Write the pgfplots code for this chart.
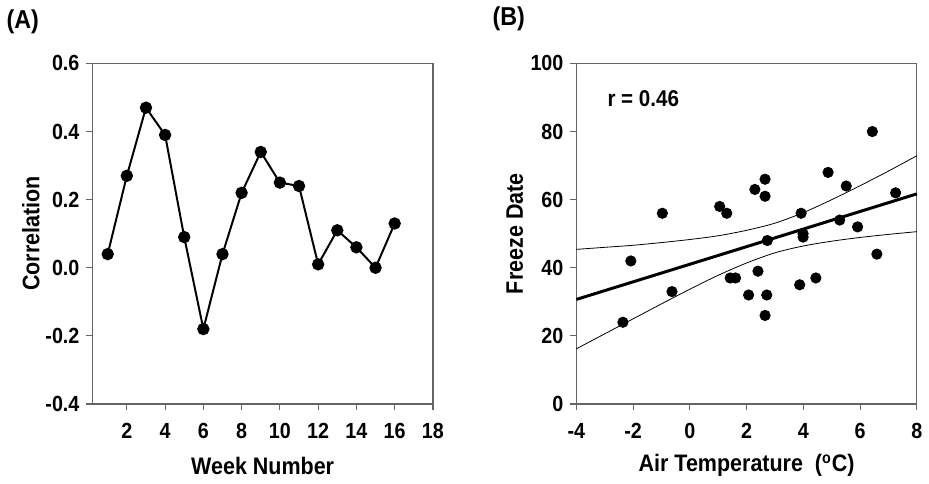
\documentclass[border=0pt]{standalone}
\usepackage{pgfplots}
\pgfplotsset{compat=1.18}
\usepackage{fontspec}
\setmainfont{Liberation Sans}[FakeStretch=0.9]

\pgfplotsset{
  panel/.style={
    scale only axis,
    width=171.2pt, height=171.2pt,
    axis line style={gray!80!black, line width=0.6pt},
    tick style={gray!80!black, line width=0.6pt},
    tick align=outside,
    major tick length=3pt,
    xtick pos=bottom, ytick pos=left,
    /pgf/number format/assume math mode=true,
    tick label style={font=\fontsize{11}{13}\selectfont\bfseries},
    xticklabel style={yshift=-3pt, text height=8pt, text depth=0pt},
    every axis x label/.style={at={(axis description cs:0.5,0)}, yshift=-31pt, anchor=center,
      font=\fontsize{12}{14}\selectfont\bfseries},
    every axis y label/.style={at={(axis description cs:0,0.5)}, xshift=-31pt, rotate=90, anchor=center,
      font=\fontsize{12}{14}\selectfont\bfseries},
    clip=false,
  },
}

\begin{document}
\begin{tikzpicture}
  % panel A
  \begin{axis}[
      panel,
      xmin=0.2, xmax=18,
      ymin=-0.4, ymax=0.6,
      xtick={2,4,...,18},
      ytick={-0.4,-0.2,0,0.2,0.4,0.6},
      yticklabel style={/pgf/number format/fixed, /pgf/number format/fixed zerofill, /pgf/number format/precision=1},
      xlabel={Week Number},
      ylabel={Correlation},
    ]
    \addplot[black, line width=1pt, mark=*, mark size=2.6pt]
    coordinates {
      (1,0.04) (2,0.27) (3,0.47) (4,0.39) (5,0.09) (6,-0.18) (7,0.04) (8,0.22)
      (9,0.34) (10,0.25) (11,0.24) (12,0.01) (13,0.11) (14,0.06) (15,0.00) (16,0.13)
    };
    \node[font=\fontsize{13}{15}\selectfont\bfseries] at (rel axis cs:0,1) [xshift=-35pt, yshift=21pt] {(A)};
  \end{axis}

  % panel B
  \begin{axis}[
      panel,
      at={(243.3pt,0pt)},
      xmin=-4, xmax=8,
      ymin=0, ymax=100,
      xtick={-4,-2,...,8},
      ytick={0,20,...,100},
      xlabel={Air Temperature\ \ (\textsuperscript{o}C)},
      ylabel={Freeze Date},
    ]
    % confidence band, upper
    \addplot[black, line width=0.4pt, smooth] coordinates {
      (-4,45.4) (-3,46.0) (-2,46.6) (-1,47.4) (0,48.3) (1,49.4) (2,51.0)
      (3,53.1) (4,56.2) (5,60.0) (6,64.1) (7,68.4) (8,72.9)
    };
    % confidence band, lower
    \addplot[black, line width=0.4pt, smooth] coordinates {
      (-4,16.2) (-3,20.6) (-2,25.0) (-1,29.4) (0,33.7) (1,37.8) (2,41.4)
      (3,44.4) (4,46.4) (5,47.8) (6,48.9) (7,49.8) (8,50.6)
    };
    % regression line
    \addplot[black, line width=1.5pt] coordinates {(-4,30.7) (8,61.7)};
    % observations
    \addplot[only marks, mark=*, mark size=2.6pt, black] coordinates {
      (-2.36,24) (-2.08,42) (-0.97,56) (-0.63,33) (1.05,58) (1.30,56) (1.42,37)
      (1.61,37) (2.07,32) (2.29,63) (2.40,39) (2.65,66) (2.65,61) (2.73,48)
      (2.71,32) (2.65,26) (3.87,35) (3.92,56) (3.99,50) (3.99,49) (4.44,37)
      (4.87,68) (5.28,54) (5.51,64) (5.91,52) (6.43,80) (6.59,44) (7.25,62)
    };
    \node[anchor=west, font=\fontsize{11.5}{13}\selectfont\bfseries] at (axis cs:-3.15,89.8) {r = 0.46};
    \node[font=\fontsize{13}{15}\selectfont\bfseries] at (rel axis cs:0,1) [xshift=-34pt, yshift=22.5pt] {(B)};
  \end{axis}
\end{tikzpicture}
\end{document}
